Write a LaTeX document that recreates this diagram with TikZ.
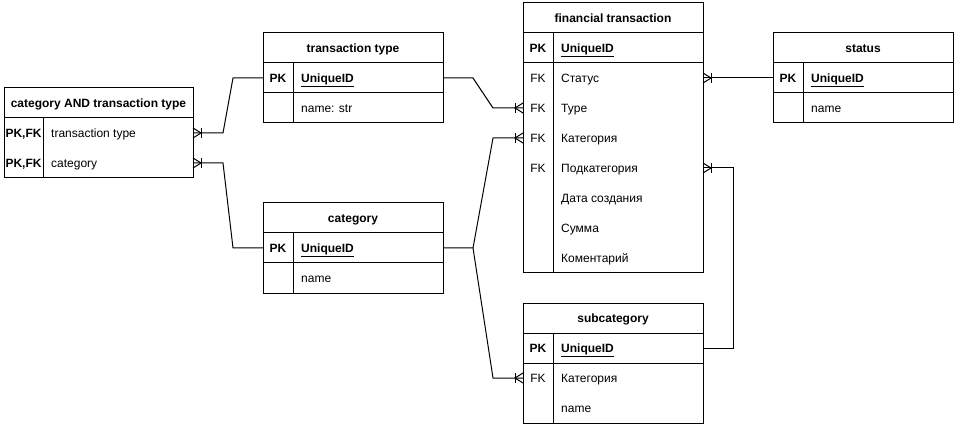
\documentclass[tikz,border=0pt]{standalone}
\usepackage{fontspec}
\setmainfont{Liberation Sans}
\usetikzlibrary{calc}
\tikzset{
 every node/.style={font=\fontsize{12}{14}\selectfont},
 rowbox/.style={minimum height=30pt, inner sep=0pt, outer sep=0pt},
 keytxt/.style={font=\fontsize{12}{14}\selectfont\bfseries, inner sep=0pt, anchor=base},
 fldtxt/.style={inner sep=0pt, anchor=base west},
 hdrtxt/.style={font=\fontsize{12}{14}\selectfont\bfseries, inner sep=0pt, anchor=base},
 frame/.style={draw=black, line width=1pt},
 conn/.style={draw=black, line width=1pt},
 crowE/.pic={\draw[line width=1pt] (-8,-5) -- (-8,5); \draw[line width=1pt] (0,-5) -- (-8,0) -- (0,5);},
}
\newcommand\ERrow[7]{%
 \node[rowbox, minimum width=#4pt] (#1) at ({#2+#4/2},#3) {};
 \node[keytxt] (#1-k) at ({#2+#5/2},{#3+4.4}) {#6};
 \node[fldtxt] (#1-f) at ({#2+#5+8},{#3+4.4}) {#7};
}
\newcommand\UID{\textbf{\underline{UniqueID}}}
\begin{document}
\begin{tikzpicture}[x=1pt,y=-1pt]
\useasboundingbox (0,0) rectangle (957,427);
\fill[white] (0,0) rectangle (957,427);

% category AND transaction type
\draw[frame] (4,88) rectangle (193,178);
\draw[frame] (4,118) -- (193,118);
\draw[frame] (43,118) -- (43,178);
\node[hdrtxt] (ctt-h) at (98.5,107.4) {category AND transaction type};
\ERrow{ctt-r1}{4}{133}{189}{39}{PK,FK}{transaction type}
\ERrow{ctt-r2}{4}{163}{189}{39}{PK,FK}{category}

% transaction type
\draw[frame] (263,33) rectangle (443,123);
\draw[frame] (263,63) -- (443,63);
\draw[frame] (263,93) -- (443,93);
\draw[frame] (293,63) -- (293,123);
\node[hdrtxt] (tt-h) at (353,52.4) {transaction type};
\ERrow{tt-pk}{263}{78}{180}{30}{PK}{\UID}
\ERrow{tt-r1}{263}{108}{180}{30}{}{name: str}

% category
\draw[frame] (263,203) rectangle (443,293);
\draw[frame] (263,233) -- (443,233);
\draw[frame] (263,263) -- (443,263);
\draw[frame] (293,233) -- (293,293);
\node[hdrtxt] (cat-h) at (353,222.4) {category};
\ERrow{cat-pk}{263}{248}{180}{30}{PK}{\UID}
\ERrow{cat-r1}{263}{278}{180}{30}{}{name}

% financial transaction
\draw[frame] (523,3) rectangle (703,273);
\draw[frame] (523,33) -- (703,33);
\draw[frame] (523,63) -- (703,63);
\draw[frame] (553,33) -- (553,273);
\node[hdrtxt] (ft-h) at (613,22.4) {financial transaction};
\ERrow{ft-pk}{523}{48}{180}{30}{PK}{\UID}
\ERrow{ft-r1}{523}{78}{180}{30}{\mdseries FK}{Статус}
\ERrow{ft-r2}{523}{108}{180}{30}{\mdseries FK}{Type}
\ERrow{ft-r3}{523}{138}{180}{30}{\mdseries FK}{Категория}
\ERrow{ft-r4}{523}{168}{180}{30}{\mdseries FK}{Подкатегория}
\ERrow{ft-r5}{523}{198}{180}{30}{}{Дата создания}
\ERrow{ft-r6}{523}{228}{180}{30}{}{Сумма}
\ERrow{ft-r7}{523}{258}{180}{30}{}{Коментарий}

% status
\draw[frame] (773,33) rectangle (953,123);
\draw[frame] (773,63) -- (953,63);
\draw[frame] (773,93) -- (953,93);
\draw[frame] (803,63) -- (803,123);
\node[hdrtxt] (st-h) at (863,52.4) {status};
\ERrow{st-pk}{773}{78}{180}{30}{PK}{\UID}
\ERrow{st-r1}{773}{108}{180}{30}{}{name}

% subcategory
\draw[frame] (523,303) rectangle (703,423);
\draw[frame] (523,333) -- (703,333);
\draw[frame] (523,363) -- (703,363);
\draw[frame] (553,333) -- (553,423);
\node[hdrtxt] (sub-h) at (613,322.4) {subcategory};
\ERrow{sub-pk}{523}{348}{180}{30}{PK}{\UID}
\ERrow{sub-r1}{523}{378}{180}{30}{\mdseries FK}{Категория}
\ERrow{sub-r2}{523}{408}{180}{30}{}{name}

% connectors
\draw[conn] (tt-pk.east) -- ++(30,0) -- ($(ft-r2.west)+(-30,0)$) -- (ft-r2.west);
\draw[conn] (cat-pk.east) -- ++(30,0) coordinate (fork) -- ($(ft-r3.west)+(-30,0)$) -- (ft-r3.west);
\draw[conn] (fork) -- ($(sub-r1.west)+(-30,0)$) -- (sub-r1.west);
\draw[conn] (st-pk.west) -- (ft-r1.east);
\draw[conn] (sub-pk.east) -- ++(30,0) |- (ft-r4.east);
\draw[conn] (ctt-r1.east) -- ++(30,0) -- ($(tt-pk.west)+(-30,0)$) -- (tt-pk.west);
\draw[conn] (ctt-r2.east) -- ++(30,0) -- ($(cat-pk.west)+(-30,0)$) -- (cat-pk.west);

% crow's feet
\pic at (ft-r2.west) {crowE};
\pic at (ft-r3.west) {crowE};
\pic at (sub-r1.west) {crowE};
\pic[rotate=180] at (ft-r1.east) {crowE};
\pic[rotate=180] at (ft-r4.east) {crowE};
\pic[rotate=180] at (ctt-r1.east) {crowE};
\pic[rotate=180] at (ctt-r2.east) {crowE};
\end{tikzpicture}
\end{document}
